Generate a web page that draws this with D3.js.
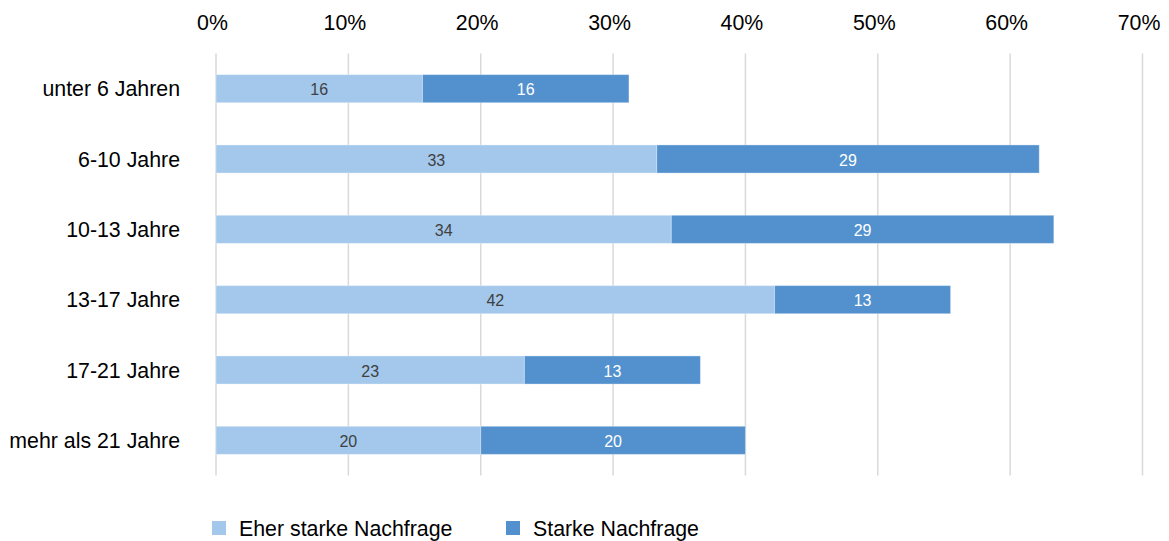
<!DOCTYPE html>
<html>
<head>
<meta charset="utf-8" />
<title>Nachfrage nach Altersgruppen</title>
<style>
body { margin: 0; background: #fff; }
text { font-family: Arial, "Liberation Sans", sans-serif; }
</style>
</head>
<body>
<div id="chart"></div>
<script src="https://d3js.org/d3.v7.min.js"></script>
<script>
// data (percent)
var categories = ['unter 6 Jahren', '6-10 Jahre', '10-13 Jahre', '13-17 Jahre', '17-21 Jahre', 'mehr als 21 Jahre'];
var seriesNames = ['Eher starke Nachfrage', 'Starke Nachfrage'];
var eherStark = [15.6, 33.3, 34.4, 42.2, 23.3, 20.0];
var stark = [15.6, 28.9, 28.9, 13.3, 13.3, 20.0];
var tickValues = [0, 10, 20, 30, 40, 50, 60, 70];

(function(d3) {
  'use strict';

  var colors = ['#a3c8ec', '#5291cd'];
  var labelColors = ['#404040', '#ffffff'];

  var width = 1169, height = 541;
  var plotLeft = 216, plotRight = 1142.5, plotTop = 53.5, plotBottom = 475.5;

  var svg = d3.select('#chart').append('svg')
    .attr('width', width).attr('height', height);

  var x = d3.scaleLinear().domain([0, 70]).range([plotLeft, plotRight]);
  var y = d3.scaleBand().domain(categories).range([plotTop, plotBottom])
    .paddingInner(0.6).paddingOuter(0.3);

  // gridlines
  svg.append('g').selectAll('line').data(tickValues).enter().append('line')
    .attr('x1', function(d) { return x(d); })
    .attr('x2', function(d) { return x(d); })
    .attr('y1', plotTop).attr('y2', plotBottom)
    .attr('stroke', '#d9d9d9').attr('stroke-width', 1.5);

  // top axis labels
  var xAxis = d3.axisTop(x).tickValues(tickValues)
    .tickFormat(function(d) { return d + '%'; }).tickSize(0).tickPadding(0);
  var gx = svg.append('g').attr('transform', 'translate(-4,30)').call(xAxis);
  gx.select('.domain').remove();
  gx.selectAll('text').attr('font-size', '21.33px').attr('fill', '#000')
    .attr('font-family', 'Arial, "Liberation Sans", sans-serif').attr('dy', 0);

  // category labels
  var yAxis = d3.axisLeft(y).tickSize(0).tickPadding(0);
  var gy = svg.append('g').attr('transform', 'translate(180,0)').call(yAxis);
  gy.select('.domain').remove();
  gy.selectAll('text').attr('font-size', '21.33px').attr('fill', '#000')
    .attr('font-family', 'Arial, "Liberation Sans", sans-serif')
    .attr('dy', '0.36em');

  // stacked segments
  var segs = [];
  categories.forEach(function(c, i) {
    var x0 = 0;
    [eherStark[i], stark[i]].forEach(function(v, s) {
      segs.push({ cat: c, s: s, x0: x0, x1: x0 + v, v: v });
      x0 += v;
    });
  });

  svg.append('g').selectAll('rect').data(segs).enter().append('rect')
    .attr('x', function(d) { return x(d.x0); })
    .attr('width', function(d) { return x(d.x1) - x(d.x0); })
    .attr('y', function(d) { return y(d.cat); })
    .attr('height', y.bandwidth())
    .attr('fill', function(d) { return colors[d.s]; })
    .attr('stroke', '#ffffff').attr('stroke-opacity', 0.35).attr('stroke-width', 1);

  svg.append('g').selectAll('text').data(segs).enter().append('text')
    .attr('x', function(d) { return (x(d.x0) + x(d.x1)) / 2; })
    .attr('y', function(d) { return y(d.cat) + y.bandwidth() / 2 + 6.5; })
    .attr('text-anchor', 'middle')
    .attr('font-size', '16px')
    .attr('fill', function(d) { return labelColors[d.s]; })
    .text(function(d) { return Math.round(d.v); });

  // legend
  var legendX = [212, 506];
  var legend = svg.append('g').selectAll('g').data(seriesNames).enter().append('g')
    .attr('transform', function(d, i) { return 'translate(' + legendX[i] + ',521)'; });
  legend.append('rect').attr('width', 14).attr('height', 14)
    .attr('fill', function(d, i) { return colors[i]; });
  legend.append('text').attr('x', 27).attr('y', 15)
    .attr('font-size', '21.33px').attr('fill', '#000')
    .text(function(d) { return d; });
})(window.d3);
</script>
</body>
</html>
